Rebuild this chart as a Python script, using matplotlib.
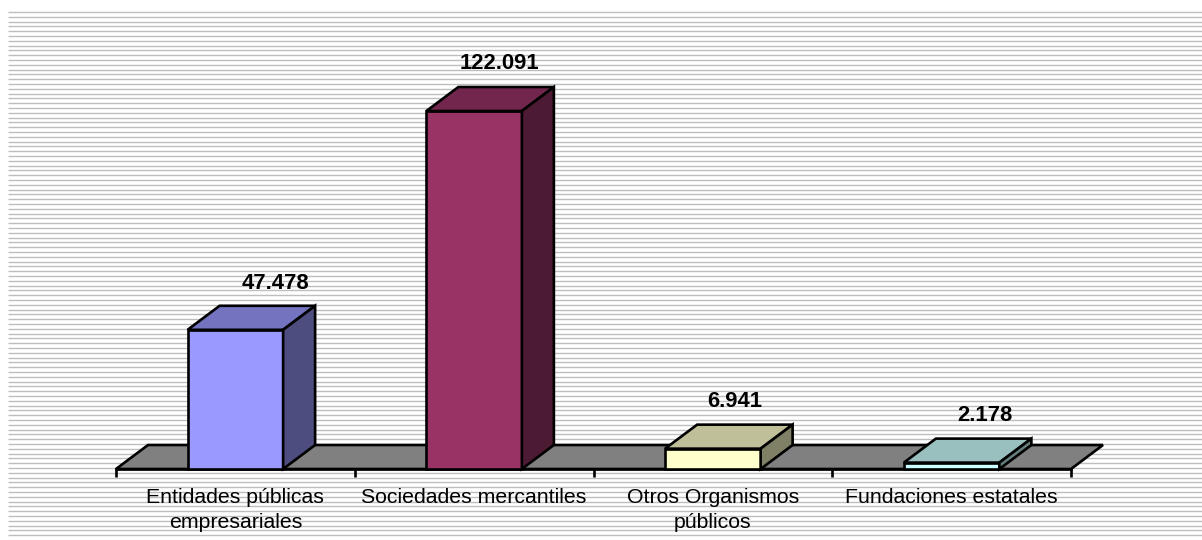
import matplotlib
matplotlib.use("Agg")
import matplotlib.pyplot as plt
from matplotlib.patches import Polygon
import numpy as np

plt.rcParams["font.family"] = ["Liberation Sans", "DejaVu Sans"]

categories = ["Entidades públicas\nempresariales", "Sociedades mercantiles", "Otros Organismos\npúblicos", "Fundaciones estatales"]
values = [47478, 122091, 6941, 2178]
value_labels = ["47.478", "122.091", "6.941", "2.178"]
front_colors = ["#9999FF", "#993366", "#FFFFCC", "#CCFFFF"]
top_colors = ["#7373BF", "#73264D", "#BFBF99", "#99BFBF"]
side_colors = ["#4D4D80", "#4D1A33", "#808066", "#668080"]
# value labels sit off the bar centre by a different amount each, in px
label_shift = [40, 25, 22, 33]
label_lift = [12, 13, 13, 13]

W, H = 1202, 540
fig = plt.figure(figsize=(W / 100, H / 100), dpi=100, facecolor="white")

# striped background, in pixels
bg = fig.add_axes([0, 0, 1, 1], zorder=0)
bg.set_xlim(0, W)
bg.set_ylim(H, 0)
bg.axis("off")
bg.hlines(np.arange(12, H, 4.8), 8, W, color="#BEBEBE", lw=1.0)

# plot area: 239 px per category, baseline at y=469, 122091 at y=111
left, right, base, top = 116, 1071, 469, 111
ymax = 122091
ax = fig.add_axes([left / W, 1 - base / H, (right - left) / W, (base - top) / H], zorder=1)
ax.set_xlim(0, len(categories))
ax.set_ylim(0, ymax)
ax.axis("off")

px_x = len(categories) / (right - left)
px_y = ymax / (base - top)
dx, dy = 32 * px_x, 24 * px_y
bar_w = 0.4
lw = 1.9
style = dict(ec="black", lw=lw, clip_on=False, joinstyle="miter")

n = len(categories)
ax.add_patch(Polygon([(0, 0), (dx, dy), (n + dx, dy), (n, 0)], fc="#808080", **style))
ax.plot([0, n], [0, 0], color="black", lw=lw, clip_on=False)
for i in range(n + 1):
    ax.plot([i, i], [0, -8 * px_y], color="black", lw=lw, clip_on=False, solid_capstyle="butt")

for i, v in enumerate(values):
    x0 = i + 0.5 - bar_w / 2
    x1 = x0 + bar_w
    ax.add_patch(Polygon([(x0, 0), (x1, 0), (x1, v), (x0, v)], fc=front_colors[i], zorder=3, **style))
    ax.add_patch(Polygon([(x0, v), (x1, v), (x1 + dx, v + dy), (x0 + dx, v + dy)], fc=top_colors[i], zorder=3, **style))
    ax.add_patch(Polygon([(x1, 0), (x1 + dx, dy), (x1 + dx, v + dy), (x1, v)], fc=side_colors[i], zorder=3, **style))
    ax.text(i + 0.5 + label_shift[i] * px_x, v + dy + label_lift[i] * px_y, value_labels[i], ha="center", va="bottom", fontsize=15.8, fontweight="bold", clip_on=False)
    ax.text(i + 0.5, -19 * px_y, categories[i], ha="center", va="top", fontsize=15.3, linespacing=1.38, clip_on=False)

fig.savefig("out.png", dpi=100)
